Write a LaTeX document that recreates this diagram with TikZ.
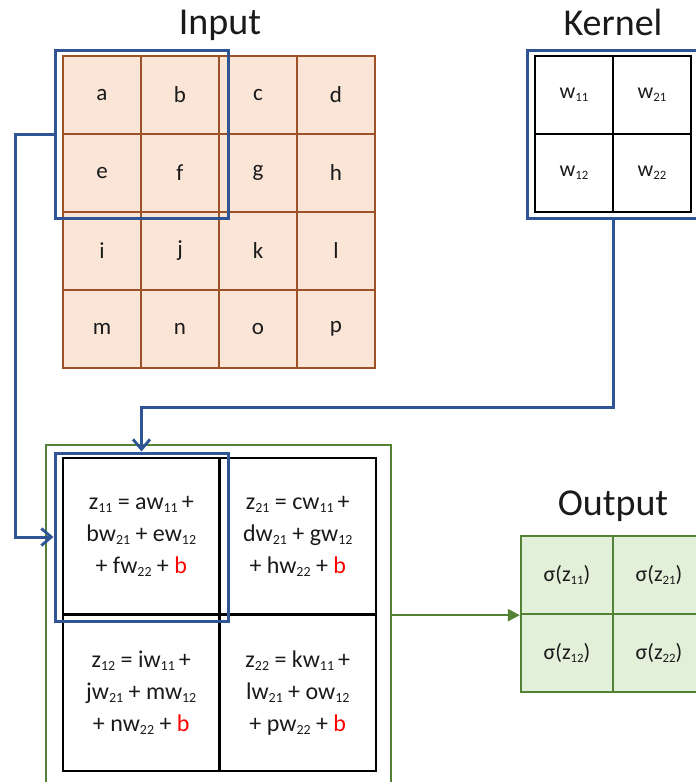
\documentclass[tikz,border=0pt]{standalone}
\usepackage{graphicx}
\usepackage{fontspec}
\setmainfont{Carlito}
\usetikzlibrary{arrows.meta}
\definecolor{peach}{HTML}{FBE5D6}
\definecolor{rust}{HTML}{9C5128}
\definecolor{navy}{HTML}{2F5597}
\definecolor{leaf}{HTML}{548235}
\definecolor{mint}{HTML}{E2F0D9}
\definecolor{ink}{HTML}{1A1A1A}
% small lowered index digits
\newcommand\ix[1]{\raisebox{-0.25ex}{\scalebox{0.58}{#1}}}
\newcommand\rb{{\color{red}b}}

\begin{document}
\begin{tikzpicture}[x=1pt, y=-1pt,
  every node/.style={text=ink},
  title/.style={font=\fontsize{38}{44}\selectfont},
  incell/.style={draw=rust, fill=peach, line width=2.3pt, minimum width=78pt,
    minimum height=78pt, inner sep=0pt, font=\fontsize{23}{27}\selectfont},
  kcell/.style={draw=black, line width=2.3pt, minimum width=78pt,
    minimum height=78pt, inner sep=0pt, font=\fontsize{22}{26}\selectfont},
  zcell/.style={draw=black, line width=2.3pt, minimum width=156.5pt,
    minimum height=156.5pt, inner sep=0pt, align=center,
    font=\fontsize{24}{32}\selectfont},
  ocell/.style={draw=leaf, fill=mint, line width=2.3pt, minimum width=92pt,
    minimum height=78pt, inner sep=0pt, font=\fontsize{22}{26}\selectfont},
  window/.style={draw=navy, line width=3pt, inner sep=0pt},
  bluelink/.style={draw=navy, line width=3pt,
    -{Straight Barb[length=10pt, width=17pt, line width=2.8pt]}},
  greenlink/.style={draw=leaf, line width=2.5pt,
    -{Triangle[length=12pt, width=12pt]}},
]
\clip (0,0) rectangle (696,782);

% titles
\node[title] (tin) at (220,25) {Input};
\node[title] (tk) at (613,22) {Kernel};
\node[title] (tout) at (613,506) {Output};

% input matrix
\node[incell] (ia) at (102,95) {a};
\node[incell] (ib) at (180,95) {b};
\node[incell] (ic) at (258,95) {c};
\node[incell] (id) at (336,95) {d};
\node[incell] (ie) at (102,173) {e};
\node[incell] (if) at (180,173) {f};
\node[incell] (ig) at (258,173) {g};
\node[incell] (ih) at (336,173) {h};
\node[incell] (ii) at (102,251) {i};
\node[incell] (ij) at (180,251) {j};
\node[incell] (ik) at (258,251) {k};
\node[incell] (il) at (336,251) {l};
\node[incell] (im) at (102,329) {m};
\node[incell] (in) at (180,329) {n};
\node[incell] (io) at (258,329) {o};
\node[incell] (ip) at (336,329) {p};
\node[window, minimum width=173pt, minimum height=168pt] (win) at (141.5,134) {};

% kernel
\node[kcell] (k11) at (574,95) {w\ix{11}};
\node[kcell] (k21) at (652,95) {w\ix{21}};
\node[kcell] (k12) at (574,173) {w\ix{12}};
\node[kcell] (k22) at (652,173) {w\ix{22}};
\node[window, minimum width=172pt, minimum height=168pt] (kwin) at (613,134) {};

% feature map
\node[draw=leaf, line width=2.5pt, minimum width=345pt, minimum height=340pt,
  inner sep=0pt] (gbox) at (218.5,615) {};
\node[zcell] (z11) at (141.25,536.25)
  {z\ix{11} = aw\ix{11}\,+\\ bw\ix{21} + ew\ix{12}\\ + fw\ix{22} + \rb};
\node[zcell] (z21) at (297.75,536.25)
  {z\ix{21} = cw\ix{11}\,+\\ dw\ix{21} + gw\ix{12}\\ + hw\ix{22} + \rb};
\node[zcell] (z12) at (141.25,692.75)
  {z\ix{12} = iw\ix{11}\,+\\ jw\ix{21} + mw\ix{12}\\ + nw\ix{22} + \rb};
\node[zcell] (z22) at (297.75,692.75)
  {z\ix{22} = kw\ix{11}\,+\\ lw\ix{21} + ow\ix{12}\\ + pw\ix{22} + \rb};
\node[window, minimum width=173pt, minimum height=168pt] (zwin) at (141.5,537) {};

% output
\node[ocell] (o11) at (567,575) {σ(z\ix{11})};
\node[ocell] (o21) at (659,575) {σ(z\ix{21})};
\node[ocell] (o12) at (567,653) {σ(z\ix{12})};
\node[ocell] (o22) at (659,653) {σ(z\ix{22})};

% connectors
\coordinate (lft) at (15,134);
\coordinate (bend) at (141.5,407);
\draw[bluelink] (win.west) -- (lft) |- (zwin.west);
\draw[bluelink] (kwin.south) |- (bend) -- (zwin.north);
\draw[greenlink] (o11.south west -| gbox.east) -- (o11.south west);
\end{tikzpicture}
\end{document}
